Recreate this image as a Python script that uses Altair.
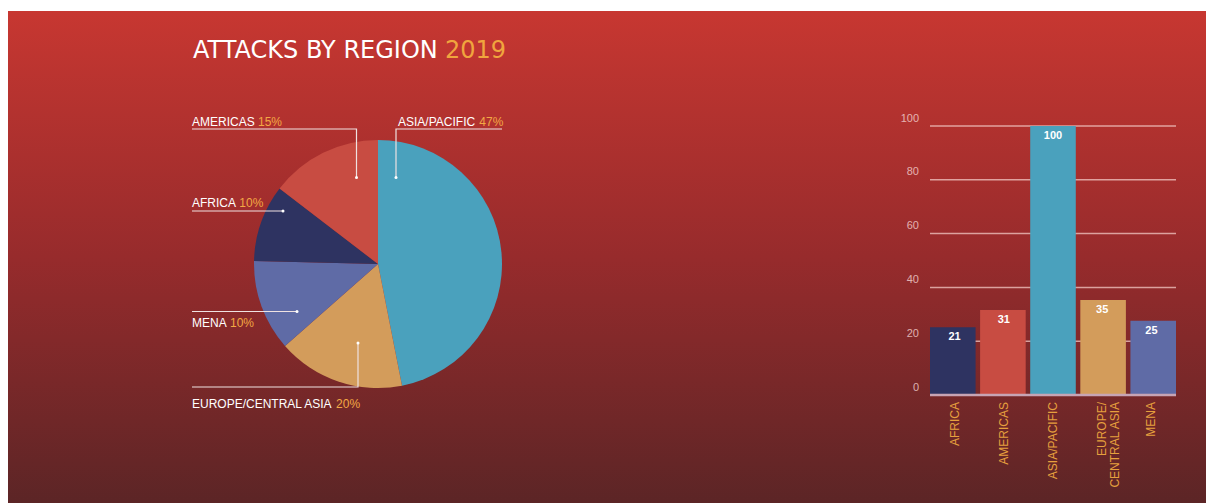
import altair as alt
import pandas as pd

# ---------------- data ----------------
regions = ["AFRICA", "AMERICAS", "ASIA/PACIFIC", "EUROPE/CENTRAL ASIA", "MENA"]
region_colors = ["#2e3361", "#c84c42", "#4aa1bd", "#d39c5b", "#5f6ba6"]

# pie slices, clockwise from 12 o'clock
pie_regions = ["ASIA/PACIFIC", "EUROPE/CENTRAL ASIA", "MENA", "AFRICA", "AMERICAS"]
pie_shares = [46.9, 16.6, 11.9, 10.0, 14.6]
pie_pct_labels = ["47%", "20%", "10%", "10%", "15%"]

# bar chart
bar_values = [25.2, 31.6, 100, 35.3, 27.6]
bar_value_labels = ["21", "31", "100", "35", "25"]
bar_axis_labels = ["AFRICA", "AMERICAS", "ASIA/PACIFIC", "EUROPE/\nCENTRAL ASIA", "MENA"]
y_ticks = [0, 20, 40, 60, 80, 100]

title_main = "ATTACKS BY REGION"
title_year = "2019"

# ---------------- layout ----------------
W, H = 1198, 492
TITLE_FONT = "DejaVu Sans"
TITLE_SIZE = 24
FONT = "Liberation Sans"
LABEL_SIZE = 12
PIE_CX, PIE_CY, PIE_R = 370, 253, 124
BAR_X0, BAR_X1 = 922, 1168
BAR_Y0, BAR_Y1 = 384, 115

# Liberation Sans (Arial-metric) advance widths, per em, used to place the
# orange percentage right after each white region name
_ADV = {"A": .667, "B": .667, "C": .722, "D": .722, "E": .667, "F": .611, "G": .778,
        "H": .722, "I": .278, "J": .5, "K": .667, "L": .556, "M": .833, "N": .722,
        "O": .778, "P": .667, "Q": .778, "R": .722, "S": .667, "T": .611, "U": .722,
        "V": .667, "W": .944, "X": .667, "Y": .667, "Z": .611, " ": .278, "/": .278}


def text_w(s, size):
    return sum(_ADV.get(c, .556) for c in s) * size


# (name x, baseline y) per pie label
label_pos = {
    "AMERICAS": (184, 114.5),
    "ASIA/PACIFIC": (390, 114.5),
    "AFRICA": (184, 196),
    "MENA": (184, 316),
    "EUROPE/CENTRAL ASIA": (184, 397),
}
leader_paths = {
    "AMERICAS": [(184, 118), (348.5, 118), (348.5, 166.5)],
    "ASIA/PACIFIC": [(494, 118), (388, 118), (388, 166.5)],
    "AFRICA": [(184, 200), (275, 200)],
    "MENA": [(184, 300.5), (289, 300.5)],
    "EUROPE/CENTRAL ASIA": [(184, 376), (350, 376), (350, 332)],
}

# ---------------- tables ----------------
pie_df = pd.DataFrame({
    "region": pie_regions,
    "share": pie_shares,
    "ord": list(range(len(pie_regions))),
})

lab_df = pd.DataFrame({
    "name": pie_regions,
    "pct": pie_pct_labels,
    "nx": [label_pos[r][0] for r in pie_regions],
    "qx": [label_pos[r][0] + text_w(r + " ", LABEL_SIZE) for r in pie_regions],
    "ty": [label_pos[r][1] for r in pie_regions],
})

lead_rows, dot_rows = [], []
for r in pie_regions:
    pts = leader_paths[r]
    for i, (qx, qy) in enumerate(pts):
        lead_rows.append({"label": r, "seq": i, "px": qx, "py": qy})
    dot_rows.append({"label": r, "px": pts[-1][0], "py": pts[-1][1]})
lead_df = pd.DataFrame(lead_rows)
dot_df = pd.DataFrame(dot_rows)

bar_df = pd.DataFrame({
    "region": regions,
    "value": bar_values,
    "vlabel": bar_value_labels,
    "xlabel": bar_axis_labels,
})
tick_df = pd.DataFrame({"tick": y_ticks, "tlabel": [str(t) for t in y_ticks]})
grid_df = pd.DataFrame({"tick": y_ticks[1:]})
base_df = pd.DataFrame({"tick": [0]})
title_df = pd.DataFrame({"txt": [title_main, title_year],
                         "tx": [185, 185 + 10.18 * TITLE_SIZE + 0.318 * TITLE_SIZE],
                         "col": ["main", "year"]})
bg_df = pd.DataFrame({"k": [0]})

# ---------------- scales ----------------
color_scale = alt.Scale(domain=regions, range=region_colors)
bx = alt.X("region:N", scale=alt.Scale(domain=regions, range=[BAR_X0, BAR_X1],
                                       paddingInner=0.09, paddingOuter=0), axis=None)


def by(field):
    return alt.Y(field, scale=alt.Scale(domain=[0, 100], range=[BAR_Y0, BAR_Y1], nice=False),
                 axis=None)


def px(field):
    return alt.X(field, scale=None, axis=None)


def py(field):
    return alt.Y(field, scale=None, axis=None)


grad = alt.LinearGradient(
    gradient="linear", x1=0, y1=0, x2=0, y2=1,
    stops=[
        alt.GradientStop(color="#c73731", offset=0),
        alt.GradientStop(color="#972b2c", offset=0.5),
        alt.GradientStop(color="#5c2526", offset=1),
    ],
)

# ---------------- layers ----------------
bg = alt.Chart(bg_df).mark_rect(fill=grad).encode(
    x=alt.value(0), x2=alt.value(W), y=alt.value(0), y2=alt.value(H)
)

title = alt.Chart(title_df).mark_text(
    font=TITLE_FONT, fontSize=TITLE_SIZE, align="left", baseline="alphabetic"
).encode(
    x=px("tx:Q"), y=alt.value(47), text="txt:N",
    color=alt.Color("col:N", scale=alt.Scale(domain=["main", "year"],
                                             range=["#ffffff", "#f0a53e"]), legend=None),
)

pie = alt.Chart(pie_df).mark_arc(radius=PIE_R).encode(
    theta=alt.Theta("share:Q", stack=True),
    order=alt.Order("ord:Q"),
    color=alt.Color("region:N", scale=color_scale, legend=None),
    x=alt.value(PIE_CX),
    y=alt.value(PIE_CY),
)

leaders = alt.Chart(lead_df).mark_line(color="#efe2e2", strokeWidth=1.2).encode(
    x=px("px:Q"), y=py("py:Q"), detail="label:N", order="seq:Q"
)
dots = alt.Chart(dot_df).mark_circle(color="#ffffff", size=9, opacity=1).encode(
    x=px("px:Q"), y=py("py:Q")
)
lab_name = alt.Chart(lab_df).mark_text(
    font=FONT, fontSize=LABEL_SIZE, color="#ffffff", align="left", baseline="alphabetic"
).encode(x=px("nx:Q"), y=py("ty:Q"), text="name:N")
lab_pct = alt.Chart(lab_df).mark_text(
    font=FONT, fontSize=LABEL_SIZE, color="#f2a844", align="left", baseline="alphabetic"
).encode(x=px("qx:Q"), y=py("ty:Q"), text="pct:N")

grid = alt.Chart(grid_df).mark_rule(color="#f3c9c6", strokeWidth=1.5, opacity=0.75).encode(
    y=by("tick:Q"), x=alt.value(BAR_X0), x2=alt.value(BAR_X1)
)
tick_labels = alt.Chart(tick_df).mark_text(
    font=FONT, fontSize=11, color="#f4d2d0", opacity=0.8, align="right",
    baseline="middle", dy=-7.5
).encode(y=by("tick:Q"), x=alt.value(BAR_X0 - 11), text="tlabel:N")

bars = alt.Chart(bar_df).mark_bar().encode(
    x=bx, y=by("value:Q"),
    color=alt.Color("region:N", scale=color_scale, legend=None),
)
baseline = alt.Chart(base_df).mark_rule(color="#c7a4b4", strokeWidth=2.5).encode(
    y=by("tick:Q"), x=alt.value(BAR_X0), x2=alt.value(BAR_X1)
)
bar_vals = alt.Chart(bar_df).mark_text(
    font=FONT, fontSize=11, fontWeight="bold", color="#ffffff", baseline="middle", dy=10
).encode(x=bx, y=by("value:Q"), text="vlabel:N")
x_labels = alt.Chart(bar_df).mark_text(
    font=FONT, fontSize=LABEL_SIZE, color="#e6a03e", angle=270, align="right",
    baseline="middle", lineBreak="\n", lineHeight=13
).encode(x=bx, y=alt.value(BAR_Y0 + 7), text="xlabel:N")

chart = alt.layer(
    bg, title, pie, leaders, dots, lab_name, lab_pct,
    grid, tick_labels, bars, baseline, bar_vals, x_labels,
).resolve_scale(
    x="independent", y="independent", color="independent"
).properties(
    width=W, height=H,
    autosize=alt.AutoSizeParams(type="none"),
    padding={"top": 3, "left": 0, "right": 0, "bottom": 0},
    background="#ffffff",
).configure_view(stroke=None)

chart.save("out.html", embed_options={"renderer": "svg", "actions": False})
